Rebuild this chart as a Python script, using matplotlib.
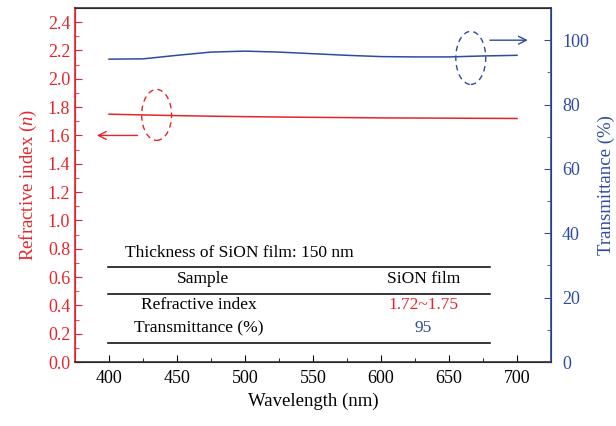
import numpy as np
import matplotlib.pyplot as plt
from matplotlib.patches import Ellipse

plt.rcParams['font.family'] = ['Liberation Serif', 'DejaVu Serif']
plt.rcParams['mathtext.fontset'] = 'custom'
plt.rcParams['mathtext.it'] = 'Liberation Serif:italic'
plt.rcParams['mathtext.rm'] = 'Liberation Serif'

RED = '#e8242b'
BLUE = '#2d4c9c'

# data
wl = [400, 425, 450, 475, 500, 525, 550, 575, 600, 625, 650, 675, 700]
n_index = [1.750, 1.745, 1.740, 1.736, 1.733, 1.730, 1.728, 1.726, 1.724, 1.723, 1.722, 1.721, 1.720]
trans = [94.1, 94.2, 95.3, 96.3, 96.6, 96.3, 95.8, 95.3, 94.9, 94.8, 94.8, 95.1, 95.3]

table_header = ['Sample', 'SiON film']
table_rows = [('Refractive index', '1.72~1.75'), ('Transmittance (%)', '95')]
table_colors = [RED, BLUE]

fig = plt.figure(figsize=(6.16, 4.26), dpi=100)
ax = fig.add_axes([0.1218, 0.1502, 0.7727, 0.831])
ax2 = ax.twinx()

ax.plot(wl, n_index, color=RED, lw=1.1)
ax2.plot(wl, trans, color=BLUE, lw=1.1)

ax.set_xlim(375, 725)
ax.set_ylim(0, 2.5)
ax2.set_ylim(0, 110)

ax.set_xticks(np.arange(400, 701, 50))
ax.set_xticks(np.arange(400, 701, 25), minor=True)
ax.set_yticks(np.arange(0, 2.41, 0.2))
ax.set_yticks(np.arange(0, 2.5, 0.1), minor=True)
ax.set_yticklabels([f'{v:.1f}' for v in np.arange(0, 2.41, 0.2)])
ax2.set_yticks(np.arange(0, 101, 20))
ax2.set_yticks(np.arange(0, 101, 10), minor=True)

ax.tick_params(axis='x', which='both', direction='in', top=False, labelsize=13, pad=6)
ax.tick_params(axis='x', which='major', length=5)
ax.tick_params(axis='x', which='minor', length=3)
ax.tick_params(axis='y', which='both', direction='in', colors=RED, labelsize=13)
ax.tick_params(axis='y', which='major', length=5)
ax.tick_params(axis='y', which='minor', length=3)
ax2.tick_params(axis='y', which='both', direction='in', colors=BLUE, labelsize=13, pad=8)
ax2.tick_params(axis='y', which='major', length=5)
ax2.tick_params(axis='y', which='minor', length=3)

for s in ['top', 'bottom']:
    ax2.spines[s].set_color('#333333')
ax2.spines['left'].set_color(RED)
ax2.spines['right'].set_color(BLUE)
for s in ax2.spines.values():
    s.set_linewidth(1.2)
ax.spines['left'].set_color(RED)

ax.set_xlabel('Wavelength (nm)', fontsize=13.5, labelpad=4)
ax.set_ylabel('Refractive index ($\\it{n}$)', color=RED, fontsize=13.5, labelpad=6)
ax2.set_ylabel('Transmittance (%)', color=BLUE, fontsize=13.5, labelpad=6)

# ellipses and arrows
ax.add_patch(Ellipse((435, 1.745), 22, 0.36, fill=False, ls=(0, (4, 3)), ec=RED, lw=1))
ax.annotate('', xy=(389, 1.60), xytext=(423, 1.60),
            arrowprops=dict(arrowstyle='->', color=RED, lw=1, mutation_scale=14))
ax2.add_patch(Ellipse((666, 94.5), 22, 16.5, fill=False, ls=(0, (4, 3)), ec=BLUE, lw=1))
ax2.annotate('', xy=(710, 100), xytext=(678, 100),
             arrowprops=dict(arrowstyle='->', color=BLUE, lw=1, mutation_scale=14))

# inset table
ax.text(412, 0.77, 'Thickness of SiON film: 150 nm', fontsize=12.5, va='center', ha='left')
for yl in [0.672, 0.481, 0.134]:
    ax.plot([399, 680], [yl, yl], color='black', lw=1.1)
ax.text(469, 0.585, table_header[0], fontsize=12.5, ha='center', va='center')
ax.text(631, 0.585, table_header[1], fontsize=12.5, ha='center', va='center')
row_y = [0.405, 0.24]
for (name, val), c, y in zip(table_rows, table_colors, row_y):
    ax.text(466, y, name, fontsize=12.5, ha='center', va='center')
    ax.text(631, y, val, fontsize=12.5, ha='center', va='center', color=c)

fig.savefig('out.png', dpi=100)
